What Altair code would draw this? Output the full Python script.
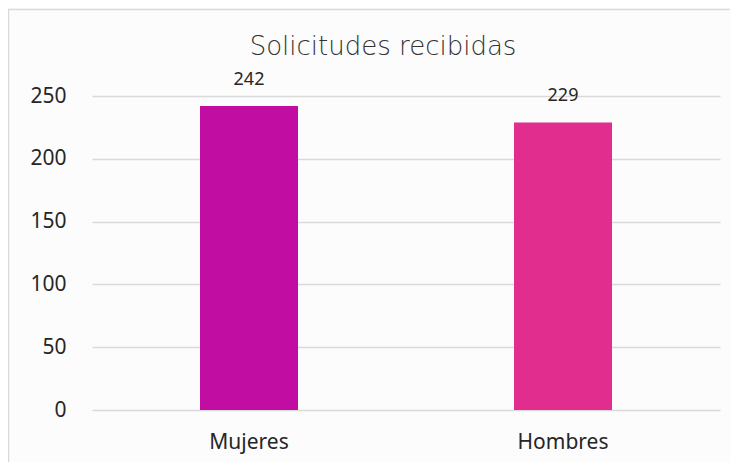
import altair as alt
import pandas as pd

categories = ["Mujeres", "Hombres"]
values = [242, 229]
colors = ["#C20DA3", "#E02D8E"]

df = pd.DataFrame({"cat": categories, "val": values, "color": colors})

W, H = 628, 314

base = alt.Chart(df)

bars = base.mark_bar(size=98).encode(
    x=alt.X("cat:N", sort=categories, title=None,
            scale=alt.Scale(paddingInner=0, paddingOuter=0),
            axis=alt.Axis(labelAngle=0, ticks=False, domain=False, labelPadding=21,
                          labelFontSize=21, labelFont="Noto Sans", labelColor="#262626")),
    y=alt.Y("val:Q", title=None,
            scale=alt.Scale(domain=[0, 250], nice=False),
            axis=alt.Axis(values=[0, 50, 100, 150, 200, 250], ticks=False, domain=False,
                          labelPadding=26, labelFontSize=21, labelFont="Noto Sans",
                          labelColor="#262626", gridColor="#D9D9D9", gridWidth=1.5)),
    color=alt.Color("color:N", scale=None),
)

labels = base.mark_text(dy=-26, fontSize=18, font="Noto Sans", color="#262626", baseline="middle").encode(
    x=alt.X("cat:N", sort=categories),
    y="val:Q",
    text="val:Q",
)

title = alt.Chart(pd.DataFrame({"t": ["Solicitudes recibidas"]})).mark_text(
    fontSize=26, font="DejaVu Sans", fontWeight=300, color="#333333", baseline="middle"
).encode(x=alt.value(291), y=alt.value(-49), text="t:N")

border = alt.Chart(pd.DataFrame({"a": [0]})).mark_rect(
    fill=None, stroke="#D9D9D9", strokeWidth=1.5
).encode(x=alt.value(-83.5), x2=alt.value(680), y=alt.value(-86.5), y2=alt.value(420))

chart = alt.layer(bars, labels, title, border).properties(
    width=W, height=H,
    autosize=alt.AutoSizeParams(type="none"),
    padding={"left": 84, "top": 88, "right": 10, "bottom": 52},
    background="#FCFCFC",
).configure_view(stroke=None)

chart.save("out.html", embed_options={"renderer": "svg", "actions": False})
